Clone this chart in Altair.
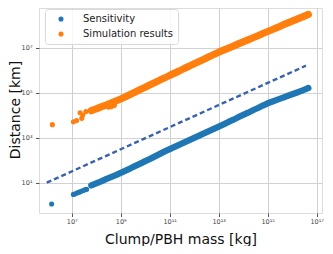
import altair as alt
import pandas as pd

# ---- data (log10 values) ----
sens_band_logm = [7.8, 8.0, 8.2, 8.4, 8.6, 8.8, 9.0, 9.2, 9.4, 9.6, 9.8, 10.0, 10.2, 10.4, 10.6,
                  10.8, 11.0, 11.2, 11.4, 11.6, 11.8, 12.0, 12.2, 12.4, 12.6, 12.8, 13.0, 13.2,
                  13.4, 13.6, 13.8, 14.0, 14.2, 14.4, 14.6, 14.8, 15.0, 15.2, 15.4, 15.6, 15.8,
                  16.0, 16.2, 16.4, 16.6, 16.66]
sens_band_logd = [0.88, 0.97, 1.06, 1.16, 1.25, 1.34, 1.44, 1.54, 1.64, 1.75, 1.85, 1.96, 2.06,
                  2.17, 2.28, 2.39, 2.49, 2.59, 2.69, 2.79, 2.89, 2.99, 3.09, 3.19, 3.29, 3.39,
                  3.49, 3.59, 3.70, 3.80, 3.91, 4.01, 4.11, 4.22, 4.32, 4.43, 4.53, 4.61, 4.69,
                  4.77, 4.85, 4.93, 5.01, 5.09, 5.18, 5.21]
sens_extra_logm = [6.18, 7.07, 7.15, 7.23, 7.31, 7.39, 7.47, 7.55, 7.61]
sens_extra_logd = [0.05, 0.48, 0.51, 0.55, 0.58, 0.62, 0.65, 0.69, 0.71]

sim_band_logm = sens_band_logm
sim_band_logd = [4.20, 4.28, 4.37, 4.45, 4.54, 4.63, 4.72, 4.82, 4.93, 5.03, 5.14, 5.24, 5.35,
                 5.45, 5.56, 5.66, 5.77, 5.87, 5.97, 6.08, 6.18, 6.29, 6.39, 6.49, 6.60, 6.70,
                 6.80, 6.89, 6.98, 7.07, 7.17, 7.26, 7.35, 7.44, 7.53, 7.63, 7.72, 7.81, 7.90,
                 8.00, 8.09, 8.18, 8.27, 8.36, 8.45, 8.48]
sim_extra_logm = [6.21, 7.07, 7.20, 7.34, 7.41, 7.45, 7.58, 8.50, 8.60, 8.70, 8.75]
sim_extra_logd = [3.58, 3.71, 3.76, 4.11, 3.86, 4.01, 4.16, 4.36, 4.38, 4.42, 4.45]

guide_logm = [5.98, 16.56]
guide_logd = [1.00, 6.20]

x_tick_exp = [7, 9, 11, 13, 15, 17]
y_tick_exp = [1, 3, 5, 7]
sup = {"1": "\u00b9", "3": "\u00b3", "5": "\u2075", "7": "\u2077", "9": "\u2079"}

series_names = ["Sensitivity", "Simulation results"]
series_colors = ["#1f77b4", "#ff7f0e"]

rows = []
for s, part, ms, ds in [
    ("Sensitivity", "band", sens_band_logm, sens_band_logd),
    ("Sensitivity", "extra", sens_extra_logm, sens_extra_logd),
    ("Simulation results", "band", sim_band_logm, sim_band_logd),
    ("Simulation results", "extra", sim_extra_logm, sim_extra_logd),
    ("guide", "guide", guide_logm, guide_logd),
]:
    for m, d in zip(ms, ds):
        rows.append({"series": s, "part": part, "mass": 10 ** m, "dist": 10 ** d})
df = pd.DataFrame(rows)


def sup_str(e):
    return "10" + "".join(sup.get(c, c) for c in str(e))


def label_expr(exps):
    expr = "''"
    for e in exps:
        expr = f"abs(log(datum.value)/LN10 - {e}) < 0.01 ? '{sup_str(e)}' : " + expr
    return expr


FONT = "DejaVu Sans"

x_enc = alt.X(
    "mass:Q",
    scale=alt.Scale(type="log", domain=[10 ** 5.665, 10 ** 17.217], nice=False),
    axis=alt.Axis(
        values=[10 ** e for e in x_tick_exp],
        labelExpr=label_expr(x_tick_exp),
        title="Clump/PBH mass [kg]",
        titleX=141.5, titleY=30, titleAlign="center", titleBaseline="alphabetic",
        titleFontSize=14, titleFontWeight="normal", titleFont=FONT, titleColor="#111",
        labelFontSize=6.5, labelFont=FONT, labelColor="#444",
        tickSize=3.5, tickColor="#555", labelPadding=2, domain=False,
        grid=True, gridColor="#cfcfcf", gridWidth=1,
    ),
)
y_enc = alt.Y(
    "dist:Q",
    scale=alt.Scale(type="log", domain=[10 ** -0.347, 10 ** 8.764], nice=False),
    axis=alt.Axis(
        values=[10 ** e for e in y_tick_exp],
        labelExpr=label_expr(y_tick_exp),
        title="Distance [km]",
        titleX=-20, titleY=101.5, titleAngle=270, titleAlign="center",
        titleBaseline="alphabetic",
        titleFontSize=14, titleFontWeight="normal", titleFont=FONT, titleColor="#111",
        labelFontSize=6.5, labelFont=FONT, labelColor="#444",
        tickSize=3.5, tickColor="#555", labelPadding=3.5, domain=False,
        grid=True, gridColor="#d2d2d2", gridWidth=1.2,
    ),
)

base = alt.Chart(df).encode(x=x_enc, y=y_enc)

band_blue = base.transform_filter(
    "datum.series == 'Sensitivity' && datum.part == 'band'"
).mark_line(color=series_colors[0], strokeWidth=6.3, strokeCap="round", strokeJoin="round")

band_orange = base.transform_filter(
    "datum.series == 'Simulation results' && datum.part == 'band'"
).mark_line(color=series_colors[1], strokeWidth=7.2, strokeCap="round", strokeJoin="round")

points = base.transform_filter("datum.series != 'guide'").mark_circle(
    size=26, opacity=1
).encode(
    color=alt.Color(
        "series:N",
        scale=alt.Scale(domain=series_names, range=series_colors),
        legend=alt.Legend(
            title=None, orient="none", legendX=6, legendY=1,
            padding=5, symbolOffset=6, labelOffset=17, rowPadding=5,
            labelFontSize=10, labelFont=FONT, labelColor="#222",
            symbolSize=26, symbolType="circle", symbolStrokeWidth=0,
            fillColor="rgba(255,255,255,0.85)", strokeColor="#d9d9d9", cornerRadius=3,
        ),
    )
)

guide = base.transform_filter("datum.series == 'guide'").mark_line(
    color="#3862ac", strokeDash=[5, 3], strokeWidth=2.4
)

chart = alt.layer(band_blue, band_orange, points, guide).properties(
    width=283, height=205,
    autosize=alt.AutoSizeParams(type="none"),
    padding={"left": 31, "top": 0, "right": 3, "bottom": 33},
).configure_view(
    stroke="#4a4a4a", strokeWidth=1
).configure(background="white")

chart.save("out.html", embed_options={"renderer": "svg", "actions": False})
